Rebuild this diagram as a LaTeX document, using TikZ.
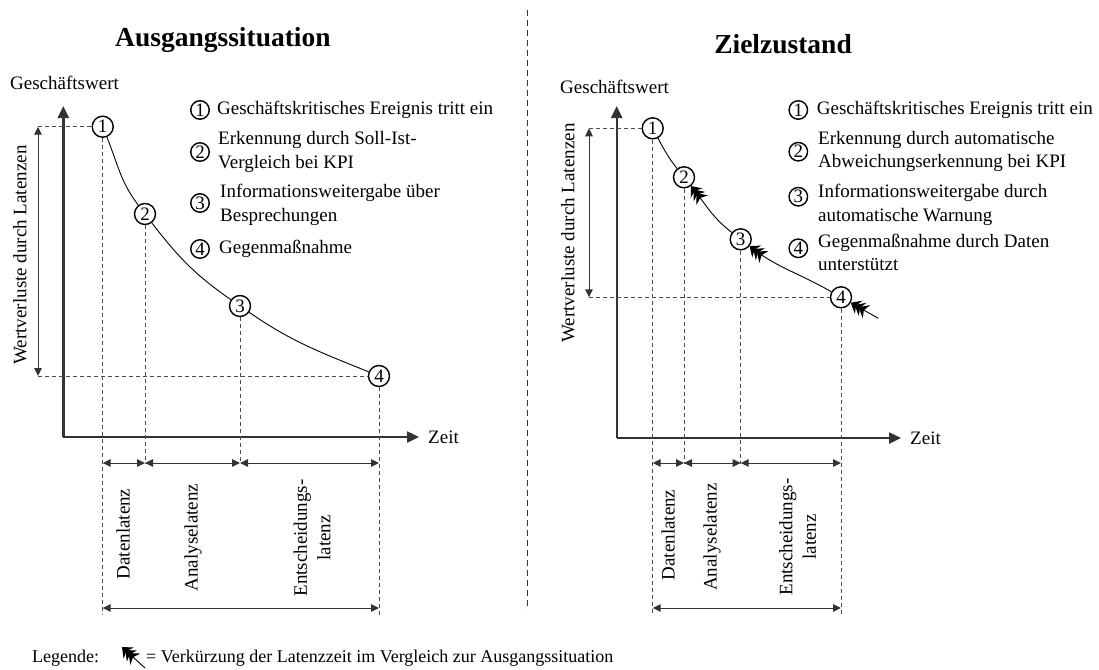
\documentclass[tikz,border=0pt]{standalone}
\usepackage{fontspec}
\setmainfont{Liberation Serif}
\usetikzlibrary{arrows.meta}
\begin{document}
\begin{tikzpicture}[x=1pt,y=1pt,
  txt/.style={font=\fontsize{19}{23.5}\selectfont, inner sep=0pt, align=left},
  num/.style={circle, draw=black, line width=1.4pt, fill=white, minimum size=21pt, inner sep=0pt, font=\fontsize{19}{20}\selectfont},
  legnum/.style={num, minimum size=18.5pt},
  axis/.style={line width=2.4pt, draw=black!80, -{Triangle[length=12pt,width=11pt]}},
  guide/.style={dash pattern=on 4pt off 3pt, draw=black!70, line width=1pt},
  span/.style={draw=black!80, line width=1pt, {Triangle[length=8pt,width=7.5pt]}-{Triangle[length=8pt,width=7.5pt]}},
  curve/.style={draw=black, line width=0.9pt},
  fast/.style={curve, -{Stealth[length=9pt,width=15pt,inset=3pt,sep=-4.5pt]Stealth[length=9pt,width=15pt,inset=3pt,sep=-4.5pt]Stealth[length=9pt,width=15pt,inset=3pt]}},
  ttl/.style={font=\fontsize{27.5}{30}\selectfont\bfseries, inner sep=0pt},
  rot/.style={txt, rotate=90, align=center}
]
\useasboundingbox (0,0) rectangle (1099,-669);

% divider
\draw[dash pattern=on 6pt off 4pt, line width=0.9pt, draw=black!80] (527,-10) -- (527,-610);

% titles
\node[ttl, anchor=base west] (t1) at (115,-46.7) {Ausgangssituation};
\node[ttl, anchor=base east] (t2) at (852,-53) {Zielzustand};

% ================= LEFT =================
\node[txt, anchor=west] (gw1) at (10,-83) {Geschäftswert};
\coordinate (o1) at (63.3,-437);
\coordinate (ytop1) at (63.3,-106);
\coordinate (xend1) at (419,-437);
\draw[axis] (o1) -- (ytop1);
\draw[axis] (o1) -- (xend1);
\node[txt, anchor=west] (zeit1) at (428,-437) {Zeit};

\node[num] (a1) at (102.7,-126.7) {1};
\node[num] (a2) at (145,-214) {2};
\node[num] (a3) at (240,-306) {3};
\node[num] (a4) at (379,-376) {4};
\draw[curve] (a1) to[out=-68,in=127.4] (a2) to[out=-52.6,in=145.3] (a3) to[out=-34.7,in=158] (a4);

\coordinate (vl1t) at (38,-126.7);
\coordinate (vl1b) at (38,-376);
\draw[guide] (vl1t) -- (a1);
\draw[guide] (vl1b) -- (a4);
\draw[span] (vl1t) -- (vl1b);
\node[txt, rotate=90] (wv1) at (20,-255) {Wertverluste durch Latenzen};

\coordinate (a1d) at (102.7,-615);
\coordinate (a2d) at (145,-464);
\coordinate (a3d) at (240,-464);
\coordinate (a4d) at (379,-615);
\draw[guide] (a1) -- (a1d);
\draw[guide] (a2) -- (a2d);
\draw[guide] (a3) -- (a3d);
\draw[guide] (a4) -- (a4d);
\coordinate (l1a) at (102.7,-463);
\coordinate (l1b) at (145,-463);
\coordinate (l1c) at (240,-463);
\coordinate (l1d) at (379,-463);
\draw[span] (l1a) -- (l1b);
\draw[span] (l1b) -- (l1c);
\draw[span] (l1c) -- (l1d);
\coordinate (b1a) at (102.7,-608);
\coordinate (b1b) at (379,-608);
\draw[span] (b1a) -- (b1b);
\node[rot] (dl1) at (123,-534) {Datenlatenz};
\node[rot] (al1) at (193,-537.5) {Analyselatenz};
\node[rot] (el1) at (312,-538) {Entscheidungs-\\latenz};

% legend left
\node[legnum] (k11) at (200,-110) {1};
\node[txt, anchor=west] (k11t) at (217,-110) {Geschäftskritisches Ereignis tritt ein};
\node[legnum] (k12) at (200,-152) {2};
\node[txt, anchor=west] (k12t) at (218,-152) {Erkennung durch Soll-Ist-\\Vergleich bei KPI};
\node[legnum] (k13) at (200,-203) {3};
\node[txt, anchor=west] (k13t) at (220,-205) {Informationsweitergabe über\\Besprechungen};
\node[legnum] (k14) at (200,-249) {4};
\node[txt, anchor=west] (k14t) at (219,-249) {Gegenmaßnahme};

% ================= RIGHT =================
\node[txt, anchor=west] (gw2) at (560,-87) {Geschäftswert};
\coordinate (o2) at (616.7,-438);
\coordinate (ytop2) at (616.7,-106);
\coordinate (xend2) at (901,-438);
\draw[axis] (o2) -- (ytop2);
\draw[axis] (o2) -- (xend2);
\node[txt, anchor=west] (zeit2) at (910,-438) {Zeit};

\node[num] (b1) at (652.7,-128.3) {1};
\node[num] (b2) at (684,-177.3) {2};
\node[num] (b3) at (740.7,-239.3) {3};
\node[num] (b4) at (841,-297.3) {4};
\coordinate (bend) at (878.3,-318.3);
\draw[curve] (b1) to[out=-62,in=128.4] (b2);
\draw[fast] (b3) to[out=142.6,in=-51.6] (b2);
\draw[fast] (b4) to[out=150.1,in=-37.4] (b3);
\draw[fast] (bend) to[out=150.4,in=-29.9] (b4);

\coordinate (vl2t) at (589,-128.3);
\coordinate (vl2b) at (589,-297.3);
\draw[guide] (vl2t) -- (b1);
\draw[guide] (vl2b) -- (b4);
\draw[span] (vl2t) -- (vl2b);
\node[txt, rotate=90] (wv2) at (568,-233) {Wertverluste durch Latenzen};

\coordinate (b1d) at (652.7,-615);
\coordinate (b2d) at (684,-464);
\coordinate (b3d) at (740.7,-464);
\coordinate (b4d) at (841,-615);
\draw[guide] (b1) -- (b1d);
\draw[guide] (b2) -- (b2d);
\draw[guide] (b3) -- (b3d);
\draw[guide] (b4) -- (b4d);
\coordinate (l2a) at (652.7,-463);
\coordinate (l2b) at (684,-463);
\coordinate (l2c) at (740.7,-463);
\coordinate (l2d) at (841,-463);
\draw[span] (l2a) -- (l2b);
\draw[span] (l2b) -- (l2c);
\draw[span] (l2c) -- (l2d);
\coordinate (b2a) at (652.7,-608);
\coordinate (b2b) at (841,-608);
\draw[span] (b2a) -- (b2b);
\node[rot] (dl2) at (668,-535) {Datenlatenz};
\node[rot] (al2) at (712,-537) {Analyselatenz};
\node[rot] (el2) at (797.5,-537) {Entscheidungs-\\latenz};

% legend right
\node[legnum] (k21) at (798.3,-110) {1};
\node[txt, anchor=west] (k21t) at (816.7,-110) {Geschäftskritisches Ereignis tritt ein};
\node[legnum] (k22) at (798.3,-151.7) {2};
\node[txt, anchor=west] (k22t) at (818,-151.7) {Erkennung durch automatische\\Abweichungserkennung bei KPI};
\node[legnum] (k23) at (798.3,-196.7) {3};
\node[txt, anchor=west] (k23t) at (818,-204.8) {Informationsweitergabe durch\\automatische Warnung};
\node[legnum] (k24) at (798.3,-248.3) {4};
\node[txt, anchor=west] (k24t) at (818,-252.5) {Gegenmaßnahme durch Daten\\unterstützt};

% ================= bottom legend =================
\node[txt, anchor=base west, font=\fontsize{18}{20}\selectfont] (leg) at (32,-662) {Legende:};
\coordinate (ls) at (145,-668);
\coordinate (le) at (122,-647);
\draw[fast] (ls) -- (le);
\node[txt, anchor=base west, font=\fontsize{18}{20}\selectfont] (legt) at (146,-662) {= Verkürzung der Latenzzeit im Vergleich zur Ausgangssituation};
\end{tikzpicture}
\end{document}
